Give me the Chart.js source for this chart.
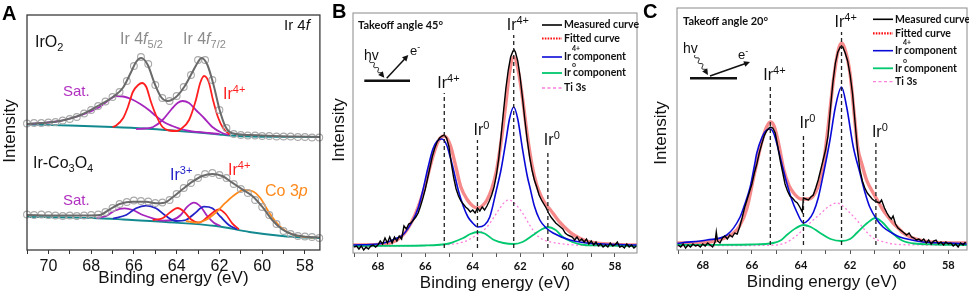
<!DOCTYPE html>
<html><head><meta charset="utf-8">
<script src="https://cdn.jsdelivr.net/npm/chart.js@4.4.1/dist/chart.umd.min.js"></script>
<style>
html,body{margin:0;padding:0;background:#fff;overflow:hidden}
body{width:969px;height:296px;position:relative}
.p{position:absolute;top:0;height:296px}
#pa{left:0;width:325px}
#pb{left:325px;width:315px}
#pc{left:640px;width:329px}
</style></head><body>
<div class="p" id="pa"><canvas id="ca"></canvas></div>
<div class="p" id="pb"><canvas id="cb"></canvas></div>
<div class="p" id="pc"><canvas id="cc"></canvas></div>
<script>
/* Ir 4f XPS, three panels: (A) IrO2 vs Ir-Co3O4 fits, (B)/(C) angle-resolved Ir 4f.
   Values are [binding energy eV, intensity a.u.]. */

// ---- panel A: IrO2 (upper trace) ----
const aDotsTop = [[71.0,126.5],[70.67,127],[70.33,127],[70.0,127.5],[69.67,128],[69.33,129.5],[69.0,131],[68.67,133],[68.33,136.5],[68.0,140],[67.67,144],[67.33,148.5],[67.0,153],[66.67,158],[66.33,169],[66.0,184],[65.67,193],[65.33,186],[65.0,165],[64.67,152],[64.33,149],[64.0,154],[63.67,163],[63.33,175],[63.0,190],[62.67,190],[62.33,170],[62.0,140],[61.67,122],[61.33,116],[61.0,115],[60.67,114.5],[60.33,114.5],[60.0,114],[59.67,114],[59.33,113.5],[59.0,113.5],[58.67,113.5],[58.33,113],[58.0,113],[57.67,112.5],[57.33,112.5]];
const aFitTop = [[71.0,126],[70.0,127.5],[69.46,129],[68.9,132],[68.38,136],[67.6,145],[66.98,153],[66.52,162],[66.13,178],[65.9,188],[65.66,192],[65.35,185],[65.04,167],[64.73,153],[64.42,149],[64.03,153],[63.65,163],[63.26,178],[63.0,188],[62.84,192],[62.56,185],[62.25,163],[61.99,140],[61.71,123],[61.4,116.7],[60.62,115],[59.5,114],[58.5,113.5],[57.3,113]];
const aBaseTop = [[71,125.5],[69,124.5],[67,123],[65.5,121.5],[64.5,120],[63,117.5],[62,115.5],[61.5,114.5],[60.5,113.5],[57.3,113]];
const aIr4Top = [[67.0,123],[66.83,124.5],[66.5,132],[66.28,143],[66.05,158],[65.8,165],[65.62,167],[65.42,163],[65.2,148],[64.97,135],[64.66,123],[64.35,119.5],[64.0,119],[63.8,121],[63.42,130],[63.1,150],[62.9,167],[62.72,174],[62.5,168],[62.3,150],[62.07,133],[61.83,122],[61.52,115.5]];
const aSat1Top = [[71,126],[70,127.5],[69.46,129],[68.9,132],[68.38,135.5],[67.6,143],[67.2,149.5],[66.83,154],[66.5,153.5],[66.13,151],[65.7,146],[65.3,140],[64.97,134],[64.6,128],[64.2,124],[63.8,121],[63.4,119],[63,118],[62.5,117],[62.0,116]];
const aSat2Top = [[65.9,121],[65.5,121.5],[65.1,123],[64.66,130],[64.27,140],[63.96,147],[63.73,149],[63.42,147],[63.1,140],[62.72,132],[62.33,123],[61.87,117],[61.55,115]];

// ---- panel A: Ir-Co3O4 (lower trace) ----
const aDotsBot = [[71.0,35.5],[70.67,35],[70.33,35.5],[70.0,35],[69.67,34.5],[69.33,34],[69.0,34.5],[68.67,34],[68.33,34.5],[68.0,35],[67.67,35.5],[67.33,38],[67.0,42],[66.67,46],[66.33,48],[66.0,49.5],[65.67,49],[65.33,48.5],[65.0,47],[64.67,47.5],[64.33,50],[64.0,56],[63.67,62],[63.33,67],[63.0,72],[62.67,76],[62.33,77],[62.0,75],[61.67,72],[61.33,66],[61.0,61],[60.67,57],[60.33,50],[60.0,43],[59.67,35],[59.33,26],[59.0,19],[58.67,16],[58.33,14],[58.0,13.5],[57.67,13],[57.33,12]];
const aFitBot = [[71.0,35],[69.5,34.5],[68.3,34.5],[67.6,35],[67.13,40.7],[66.67,46],[66.05,48.3],[65.42,48.3],[64.97,46.7],[64.58,47.3],[64.19,52.7],[63.73,60.7],[63.26,68.3],[62.8,74],[62.33,76],[61.87,74],[61.4,67.3],[60.93,60.7],[60.46,54],[60.0,43.3],[59.53,30],[59.07,20.7],[58.6,15.7],[57.98,13.3],[57.3,12.5]];
const aBaseBot = [[71,33],[69,32.5],[67.9,32],[66.5,30.5],[64.5,28],[62.15,24],[60.6,18],[59.07,14],[58,12.5],[57.3,12]];
const aSatBot = [[67.75,32],[67.29,34],[66.9,39.3],[66.44,41.7],[66.05,40],[65.58,35],[65.12,31.7],[64.66,29.3],[64.2,30],[63.81,35],[63.5,43.3],[63.19,47.3],[62.88,43.3],[62.57,34],[62.26,27.3],[61.95,24]];
const aIr3Bot = [[66.98,31.5],[66.36,35],[65.9,41.7],[65.43,44.3],[64.97,41.7],[64.5,34],[64.03,29],[63.57,30],[63.19,36],[62.72,43.3],[62.33,41.7],[61.95,33.3],[61.56,25],[61.17,20.7]];
const aIr4Bot = [[65.12,30],[64.66,31.7],[64.27,38.3],[63.96,42],[63.65,38.3],[63.34,30.7],[62.96,27.3],[62.57,32.7],[62.26,38.3],[62.03,40.7],[61.71,36],[61.4,26.7],[61.09,20.7]];
const aCo3p = [[63.57,29],[63.1,27.3],[62.64,30],[62.18,37.3],[61.71,47.3],[61.25,55.7],[60.86,60],[60.47,59],[60.08,51.7],[59.7,38.3],[59.23,25],[58.76,17.3],[58.14,13.3],[57.6,12.3]];

// ---- panel B: takeoff 45° ----
const bMeas = [[69.0,6],[68.9,7],[68.8,4],[68.7,7],[68.6,3],[68.5,6],[68.4,4],[68.3,7],[68.2,8],[68.1,6],[68.0,8],[67.9,12],[67.8,9],[67.7,15],[67.6,10],[67.5,16],[67.4,10],[67.3,16],[67.2,12],[67.1,17],[67.0,14],[66.9,27],[66.8,24],[66.7,29],[66.6,30],[66.5,33],[66.4,36],[66.3,40],[66.2,47],[66.1,55],[66.0,64],[65.9,75],[65.8,86],[65.7,97],[65.6,105],[65.5,111],[65.4,115],[65.3,117],[65.2,118],[65.1,115],[65.0,106],[64.9,89],[64.8,75],[64.7,64],[64.6,57],[64.5,52],[64.4,49],[64.3,46],[64.2,44],[64.1,41],[64.0,43],[63.9,40],[63.8,45],[63.7,42],[63.6,46],[63.5,43],[63.4,47],[63.3,52],[63.2,58],[63.1,66],[63.0,78],[62.9,95],[62.8,118],[62.7,142],[62.6,165],[62.5,183],[62.4,196],[62.3,202],[62.25,203],[62.2,201],[62.1,192],[62.0,176],[61.9,155],[61.8,133],[61.7,113],[61.6,96],[61.5,83],[61.4,73],[61.3,66],[61.2,58],[61.1,53],[61.0,49],[60.9,45],[60.8,40],[60.7,36],[60.6,33],[60.5,30],[60.4,28],[60.3,26],[60.2,24],[60.1,20],[60.0,18],[59.9,17],[59.8,16],[59.7,13],[59.6,16],[59.5,12],[59.4,14],[59.3,11],[59.2,14],[59.1,9],[59.0,12],[58.9,8],[58.8,11],[58.7,7],[58.6,9],[58.5,6],[58.4,8],[58.3,6],[58.2,10],[58.1,7],[58.0,8],[57.9,11],[57.8,6],[57.7,7],[57.6,5],[57.5,9],[57.4,6],[57.3,8],[57.2,5],[57.1,7]];
const bFit = [[69.05,8],[68.0,8.5],[67.5,10],[67.2,13],[66.9,19],[66.6,30],[66.3,46],[66.0,68],[65.7,95],[65.45,112],[65.2,117],[64.95,108],[64.7,85],[64.5,66],[64.25,54],[64.0,47],[63.8,45],[63.6,47],[63.4,53],[63.2,64],[63.0,82],[62.8,112],[62.6,150],[62.45,180],[62.27,196],[62.1,185],[61.9,155],[61.7,118],[61.5,88],[61.3,68],[61.1,56],[60.9,48],[60.75,44],[60.5,36],[60.3,30],[60.0,23],[59.8,19],[59.5,15],[59.2,12],[58.8,10],[58.0,8.5],[57.07,8]];
const bIr4 = [[69.05,8],[68.0,9],[67.6,11],[67.3,14],[66.95,18],[66.52,33],[66.3,45],[66.1,63],[65.9,84],[65.68,104],[65.5,112],[65.3,114],[65.1,108],[64.95,96],[64.83,85],[64.6,62],[64.4,47],[64.2,36],[64.0,30],[63.78,26],[63.5,28],[63.28,36],[63.0,63],[62.8,84],[62.6,112],[62.45,134],[62.27,146],[62.1,134],[61.9,104],[61.7,77],[61.59,66],[61.4,47],[61.17,33],[60.9,25],[60.61,20],[59.9,13],[59.2,10],[58.5,9],[57.07,8]];
const bIr0 = [[69.05,7],[66.0,7.5],[65.0,9.5],[64.6,13],[64.4,15],[64.1,19],[63.8,21],[63.5,19.5],[63.1,13],[62.7,10],[62.27,9],[61.9,11],[61.45,18],[61.1,23.5],[60.83,26],[60.5,23],[60.2,16],[59.8,11],[59.3,8],[58.5,7.5],[57.07,7]];
const bTi3s = [[69.05,6],[66.2,7.5],[65.0,8.5],[64.4,11],[63.9,17],[63.4,26],[63.1,36],[62.85,45],[62.65,51],[62.47,53],[62.25,50],[61.9,40],[61.6,28],[61.3,18],[61.0,13],[60.6,10.5],[60.0,8.5],[58.5,7],[57.07,6.5]];
const bPeakPos = [65.2, 63.8, 62.27, 60.83];
const bPeakTop = [160, 113, 218, 103];

// ---- panel C: takeoff 20° ----
const cMeas = [[69.0,5],[68.9,3],[68.8,6],[68.7,2],[68.6,5],[68.5,3],[68.4,6],[68.3,4],[68.2,5],[68.1,3],[68.0,6],[67.9,4],[67.8,7],[67.7,5],[67.6,3],[67.5,8],[67.45,18],[67.4,9],[67.3,7],[67.2,12],[67.1,14],[67.0,11],[66.9,15],[66.8,13],[66.7,17],[66.6,16],[66.5,23],[66.4,32],[66.3,42],[66.2,50],[66.1,58],[66.0,66],[65.9,77],[65.8,86],[65.7,97],[65.6,106],[65.5,114],[65.4,119],[65.3,122],[65.25,123],[65.15,122],[65.05,117],[64.95,104],[64.85,90],[64.75,78],[64.65,66],[64.55,59],[64.45,54],[64.35,52],[64.25,49],[64.15,47],[64.05,43],[63.95,38],[63.9,52],[63.8,51],[63.7,50],[63.6,53],[63.5,55],[63.4,62],[63.3,70],[63.2,80],[63.1,90],[63.0,100],[62.9,114],[62.8,142],[62.7,168],[62.6,187],[62.5,198],[62.4,203],[62.3,203],[62.2,197],[62.1,189],[62.0,175],[61.9,156],[61.8,128],[61.7,100],[61.6,80],[61.5,69],[61.4,62],[61.3,57],[61.2,54],[61.1,51],[61.0,49],[60.9,48],[60.8,47],[60.72,50],[60.6,42],[60.5,37],[60.4,33],[60.32,31],[60.25,34],[60.15,26],[60.05,22],[59.95,20],[59.85,18],[59.7,15],[59.6,17],[59.5,13],[59.4,12],[59.3,10],[59.2,11],[59.1,9],[59.0,11],[58.9,7],[58.8,10],[58.7,6],[58.6,9],[58.5,10],[58.4,6],[58.3,8],[58.2,5],[58.1,8],[58.0,6],[57.9,7],[57.8,4],[57.7,6],[57.6,3],[57.5,7],[57.4,5],[57.3,8]];
const cFit = [[69.05,7],[68.0,7.5],[67.5,9],[67.1,12],[66.8,16],[66.5,24],[66.2,42],[65.9,76],[65.6,108],[65.4,123],[65.25,128],[65.1,124],[64.9,105],[64.7,80],[64.5,65],[64.3,57],[64.0,51],[63.7,51],[63.5,54],[63.3,64],[63.1,84],[62.9,122],[62.7,166],[62.5,198],[62.35,207],[62.2,200],[62.0,176],[61.85,140],[61.7,104],[61.5,84],[61.33,70],[61.06,57],[60.8,46],[60.66,40],[60.45,33],[60.25,27],[60.0,21],[59.84,17],[59.44,12],[59.0,9],[58.5,7.5],[57.24,7]];
const cIr4 = [[69.05,6.5],[68.9,7],[67.83,10],[67.02,15],[66.48,33],[66.3,45],[66.07,63],[65.9,84],[65.8,97],[65.6,112],[65.4,120],[65.25,121],[65.1,116],[64.9,98],[64.75,83],[64.58,67],[64.4,52],[64.17,38],[63.9,27],[63.7,30],[63.49,38],[63.3,52],[63.08,77],[62.82,110],[62.6,143],[62.35,163],[62.14,143],[61.87,103],[61.6,77],[61.4,58],[61.2,43],[60.9,30],[60.66,23],[60.3,17],[59.98,13],[59.5,10],[59.03,8],[58.0,7],[57.24,6]];
const cIr0 = [[69.05,5],[66.0,5.5],[65.13,7],[64.8,10],[64.58,15],[64.2,22],[63.9,25],[63.6,23],[63.22,17],[62.8,11],[62.35,9],[62.0,11],[61.73,17],[61.3,27],[60.97,32],[60.7,28],[60.4,20],[60.1,13],[59.84,9],[59.4,6.5],[58.5,5.5],[57.24,5]];
const cTi3s = [[69.05,4],[66.0,4.5],[65.0,5],[64.56,8],[64.2,14],[63.85,22],[63.5,30],[63.22,36],[62.9,43],[62.55,47],[62.3,44],[62.0,37],[61.73,30],[61.4,20],[61.06,12],[60.6,8],[60.25,6],[59.0,5],[57.24,4.5]];
const cPeakPos = [65.25, 63.9, 62.35, 60.95];
const cPeakTop = [165, 117, 218, 108];

// tick positions (every 1 eV, labelled every 2 eV)
const aTicks = [58, 59, 60, 61, 62, 63, 64, 65, 66, 67, 68, 69, 70, 71];
const bcTicks = [58, 59, 60, 61, 62, 63, 64, 65, 66, 67, 68, 69];

const peakSup = ['4+', '0', '4+', '0'];
const xTitle = 'Binding energy (eV)';

const SANS = '"Liberation Sans", Arial, sans-serif';
const LATO = 'Lato, "Open Sans", sans-serif';
const C = { red: '#ff1f1f', mag: '#a626bd', magT: '#b030c0', blue: '#2323c8', orange: '#ff8a1c',
  teal: '#12898f', gray: '#6a6a6a', dot: '#a9a9a9', fit: 'rgba(242,92,92,0.72)',
  b2: '#0a0ad8', green: '#00c86e', pink: '#ff7fdc' };

const ln = (data, color, w, extra) => Object.assign({ data, borderColor: color, borderWidth: w,
  pointRadius: 0, showLine: true, fill: false }, extra || {});
const sm = { cubicInterpolationMode: 'monotone' };
const dashed = (pos, top) => pos.map((p, i) => ln([[p, 5], [p, top[i]]], '#222', 1.3, { borderDash: [4, 3] }));

// ---- drawing helpers ----
function rich(ctx, parts, x, y, size, color, o) {
  o = o || {};
  const fam = o.fam || SANS, wt = o.bold ? 'bold ' : '';
  const f = k => (k === 'i' ? 'italic ' : '') + wt + ((k === 'sup' || k === 'sub') ? Math.round(size * 0.68) : size) + 'px ' + fam;
  let w = 0;
  parts.forEach(([t, k]) => { ctx.font = f(k); w += ctx.measureText(t).width; });
  let cx = o.center ? x - w / 2 : x;
  ctx.fillStyle = color; ctx.textAlign = 'left'; ctx.textBaseline = o.base || 'alphabetic';
  parts.forEach(([t, k]) => {
    ctx.font = f(k);
    const dy = k === 'sup' ? -size * 0.4 : k === 'sub' ? size * 0.25 : 0;
    ctx.fillText(t, cx, y + dy);
    cx += ctx.measureText(t).width;
  });
}
function head(ctx, x, y, ux, uy) {
  ctx.beginPath(); ctx.moveTo(x, y);
  ctx.lineTo(x - ux * 6 - uy * 3, y - uy * 6 + ux * 3);
  ctx.lineTo(x - ux * 6 + uy * 3, y - uy * 6 - ux * 3);
  ctx.closePath(); ctx.fill();
}
function inset(ctx, g) {
  ctx.save(); ctx.strokeStyle = '#111'; ctx.fillStyle = '#111';
  ctx.lineWidth = 2.6; ctx.beginPath(); ctx.moveTo(g.bar[0], g.bar[2]); ctx.lineTo(g.bar[1], g.bar[2]); ctx.stroke();
  // wavy photon
  let [x0, y0, x1, y1] = g.wave, dx = x1 - x0, dy = y1 - y0, L = Math.hypot(dx, dy), ux = dx / L, uy = dy / L;
  ctx.lineWidth = 1; ctx.beginPath();
  for (let s = 0; s <= L - 4; s += 0.5) {
    const w = Math.sin(s / L * Math.PI * 7) * 1.6;
    const px = x0 + ux * s - uy * w, py = y0 + uy * s + ux * w;
    s === 0 ? ctx.moveTo(px, py) : ctx.lineTo(px, py);
  }
  ctx.stroke(); head(ctx, x1, y1, ux, uy);
  // photoelectron
  [x0, y0, x1, y1] = g.arrow; dx = x1 - x0; dy = y1 - y0; L = Math.hypot(dx, dy); ux = dx / L; uy = dy / L;
  ctx.lineWidth = 1.5; ctx.beginPath(); ctx.moveTo(x0, y0); ctx.lineTo(x1 - ux * 4, y1 - uy * 4); ctx.stroke();
  head(ctx, x1, y1, ux, uy);
  ctx.restore();
  rich(ctx, [['hv', 'n']], g.hv[0], g.hv[1], 14, '#111');
  rich(ctx, [['e', 'n'], ['-', 'sup']], g.e[0], g.e[1], 13, '#111');
}
function legend(ctx, x0, x1, tx, ys) {
  const items = [
    { c: '#000', d: [], w: 1.6, t: [['Measured curve', 'n']] },
    { c: '#ff1010', d: [1.6, 1.2], w: 2.2, t: [['Fitted curve', 'n']] },
    { c: C.b2, d: [], w: 1.6, t: [['Ir', 'n']], sup: '4+' },
    { c: C.green, d: [], w: 1.8, t: [['Ir', 'n']], sup: 'o' },
    { c: C.pink, d: [3, 2.5], w: 1.3, t: [['Ti 3s', 'n']] },
  ];
  items.forEach((it, i) => {
    const y = ys[i];
    ctx.save(); ctx.strokeStyle = it.c; ctx.lineWidth = it.w; ctx.setLineDash(it.d);
    ctx.beginPath(); ctx.moveTo(x0, y); ctx.lineTo(x1, y); ctx.stroke(); ctx.restore();
    rich(ctx, it.t, tx, y, 10.5, '#111', { fam: LATO, bold: true, base: 'middle' });
    if (it.sup) {
      ctx.font = 'bold 10.5px ' + LATO;
      const w = ctx.measureText('Ir').width;
      ctx.font = 'bold 7px ' + LATO; ctx.fillText(it.sup, tx + w + 1, y - 8);
      ctx.font = 'bold 10.5px ' + LATO; ctx.fillText('component', tx + w + 2, y);
    }
  });
}
function frame(ctx, a, color, w) {
  ctx.save(); ctx.strokeStyle = color; ctx.lineWidth = w;
  ctx.strokeRect(a.left, a.top, a.right - a.left, a.bottom - a.top); ctx.restore();
}
function yTitle(ctx, x, y) {
  ctx.save(); ctx.translate(x, y); ctx.rotate(-Math.PI / 2);
  ctx.font = '17px ' + SANS; ctx.fillStyle = '#111'; ctx.textAlign = 'center'; ctx.textBaseline = 'middle';
  ctx.fillText('Intensity', 0, 0); ctx.restore();
}
function letter(ctx, t, x, y) {
  ctx.font = 'bold 20px ' + SANS; ctx.fillStyle = '#000'; ctx.textAlign = 'left'; ctx.textBaseline = 'alphabetic';
  ctx.fillText(t, x, y);
}
function peakLabels(ch, pos, top) {
  const xs = ch.scales.x, ys = ch.scales.y;
  pos.forEach((p, i) => {
    const px = xs.getPixelForValue(p), py = ys.getPixelForValue(top[i]) - 5;
    rich(ch.ctx, [['Ir', 'n'], [peakSup[i], 'sup']], px - (peakSup[i] === '0' ? 4 : 7), py, 16, '#111');
  });
}

const decor = {};
const decoPlugin = { id: 'deco', afterDatasetsDraw(ch) { const f = decor[ch.canvas.id]; if (f) f(ch, ch.ctx, ch.chartArea); } };

function makeChart(id, o) {
  return new Chart(document.getElementById(id), {
    type: 'scatter',
    data: { datasets: o.datasets },
    options: {
      responsive: true, maintainAspectRatio: false, animation: false,
      layout: { padding: o.pad },
      plugins: { legend: { display: false }, tooltip: { enabled: false } },
      scales: {
        x: {
          type: 'linear', reverse: true, min: o.xmin, max: o.xmax,
          afterBuildTicks: s => { s.ticks = o.ticks.map(v => ({ value: v })); },
          afterFit: s => { s.height = o.xh; },
          border: { display: false },
          grid: { drawOnChartArea: false, drawTicks: true, tickLength: 4, tickColor: o.tickColor, tickWidth: 1 },
          ticks: {
            autoSkip: false, maxRotation: 0, padding: o.tickPad, color: '#111', font: o.tickFont,
            callback: v => (Math.round(v) % 2 === 0) ? String(Math.round(v)) : ''
          },
          title: { display: true, text: xTitle, color: '#111', font: { family: SANS, size: 17 }, padding: { top: 0, bottom: o.titlePad } }
        },
        y: { display: false, min: 0, max: o.ymax }
      }
    },
    plugins: [decoPlugin]
  });
}

// ---- panel A ----
decor.ca = (ch, ctx, a) => {
  frame(ctx, a, '#3a3a3a', 1.3);
  letter(ctx, 'A', 2, 20);
  yTitle(ctx, 10, 131);
  rich(ctx, [['Ir 4', 'n'], ['f', 'i']], 284, 30, 15, '#111');
  rich(ctx, [['IrO', 'n'], ['2', 'sub']], 35, 47, 16, '#111');
  rich(ctx, [['Ir 4', 'n'], ['f', 'i'], ['5/2', 'sub']], 120, 44, 16, '#8c8c8c');
  rich(ctx, [['Ir 4', 'n'], ['f', 'i'], ['7/2', 'sub']], 183, 44, 16, '#8c8c8c');
  rich(ctx, [['Sat.', 'n']], 63, 96, 15, C.magT);
  rich(ctx, [['Ir', 'n'], ['4+', 'sup']], 223, 99, 16, C.red);
  rich(ctx, [['Ir-Co', 'n'], ['3', 'sub'], ['O', 'n'], ['4', 'sub']], 33, 168, 16, '#111');
  rich(ctx, [['Sat.', 'n']], 63, 205, 15, C.magT);
  rich(ctx, [['Ir', 'n'], ['3+', 'sup']], 170, 180, 16, C.blue);
  rich(ctx, [['Ir', 'n'], ['4+', 'sup']], 228, 175, 16, C.red);
  rich(ctx, [['Co 3', 'n'], ['p', 'i']], 265, 196, 16, C.orange);
};
const dots = (d) => ({ data: d, showLine: false, pointRadius: 3.4, pointBorderWidth: 1.1,
  pointBorderColor: C.dot, pointBackgroundColor: 'rgba(255,255,255,0)', clip: 8 });
makeChart('ca', {
  xmin: 57.3, xmax: 71, ymax: 235, xh: 46, tickPad: 2.5, titlePad: 7, tickColor: '#333', ticks: aTicks,
  tickFont: { family: SANS, size: 16 }, pad: { left: 27, right: 5, top: 15, bottom: 0 },
  datasets: [
    ln(aFitTop, C.gray, 2, sm), dots(aDotsTop),
    ln(aIr4Top, C.red, 1.8, sm), ln(aSat1Top, C.mag, 1.8, sm), ln(aSat2Top, C.mag, 1.8, sm),
    ln(aBaseTop, C.teal, 1.8, sm),
    ln(aFitBot, C.gray, 2, sm), dots(aDotsBot),
    ln(aCo3p, C.orange, 1.8, sm), ln(aIr4Bot, C.red, 1.8, sm), ln(aIr3Bot, C.blue, 1.8, sm),
    ln(aSatBot, C.mag, 1.8, sm), ln(aBaseBot, C.teal, 1.8, sm),
  ]
});

// ---- panel B ----
decor.cb = (ch, ctx, a) => {
  frame(ctx, a, '#8a8a8a', 1);
  letter(ctx, 'B', 7, 18);
  yTitle(ctx, 14, 130);
  rich(ctx, [['Takeoff angle 45°', 'n']], 33, 29, 11, '#111', { fam: LATO, bold: true });
  inset(ctx, { bar: [39.3, 85, 80.7], wave: [45, 60, 59.3, 77.7], arrow: [61.7, 78.3, 83.3, 55], hv: [39, 60], e: [85, 55] });
  legend(ctx, 217, 237, 239, [25, 38.5, 57, 73, 88]);
  peakLabels(ch, bPeakPos, bPeakTop);
};
makeChart('cb', {
  xmin: 57.07, xmax: 69.05, ymax: 240, xh: 43, tickPad: 2.4, titlePad: 2, tickColor: '#555', ticks: bcTicks,
  tickFont: { family: LATO, size: 11, weight: 'bold' }, pad: { left: 28, right: 3, top: 13, bottom: 0 },
  datasets: [
    ...dashed(bPeakPos, bPeakTop),
    ln(bMeas, '#000', 1.4),
    ln(bIr4, C.b2, 1.6, sm), ln(bIr0, C.green, 1.8, sm),
    ln(bTi3s, C.pink, 1.3, Object.assign({ borderDash: [2, 2.5] }, sm)),
    ln(bFit, C.fit, 3.4, sm),
  ]
});

// ---- panel C ----
decor.cc = (ch, ctx, a) => {
  frame(ctx, a, '#8a8a8a', 1);
  letter(ctx, 'C', 3, 18);
  yTitle(ctx, 21, 133);
  rich(ctx, [['Takeoff angle 20°', 'n']], 43, 25, 11, '#111', { fam: LATO, bold: true });
  inset(ctx, { bar: [50, 97, 78.3], wave: [55, 55, 68, 75], arrow: [70, 76, 110, 62], hv: [43, 53], e: [98, 59] });
  legend(ctx, 233, 253, 255, [19.3, 33.3, 50.7, 68.3, 81.7]);
  peakLabels(ch, cPeakPos, cPeakTop);
};
makeChart('cc', {
  xmin: 57.24, xmax: 69.05, ymax: 242, xh: 46, tickPad: 4.4, titlePad: 3, tickColor: '#555', ticks: bcTicks,
  tickFont: { family: LATO, size: 11, weight: 'bold' }, pad: { left: 37, right: 2, top: 8, bottom: 0 },
  datasets: [
    ...dashed(cPeakPos, cPeakTop),
    ln(cMeas, '#000', 1.4),
    ln(cIr4, C.b2, 1.6, sm), ln(cIr0, C.green, 1.8, sm),
    ln(cTi3s, C.pink, 1.3, Object.assign({ borderDash: [2, 2.5] }, sm)),
    ln(cFit, C.fit, 3.4, sm),
  ]
});
</script>
</body></html>
